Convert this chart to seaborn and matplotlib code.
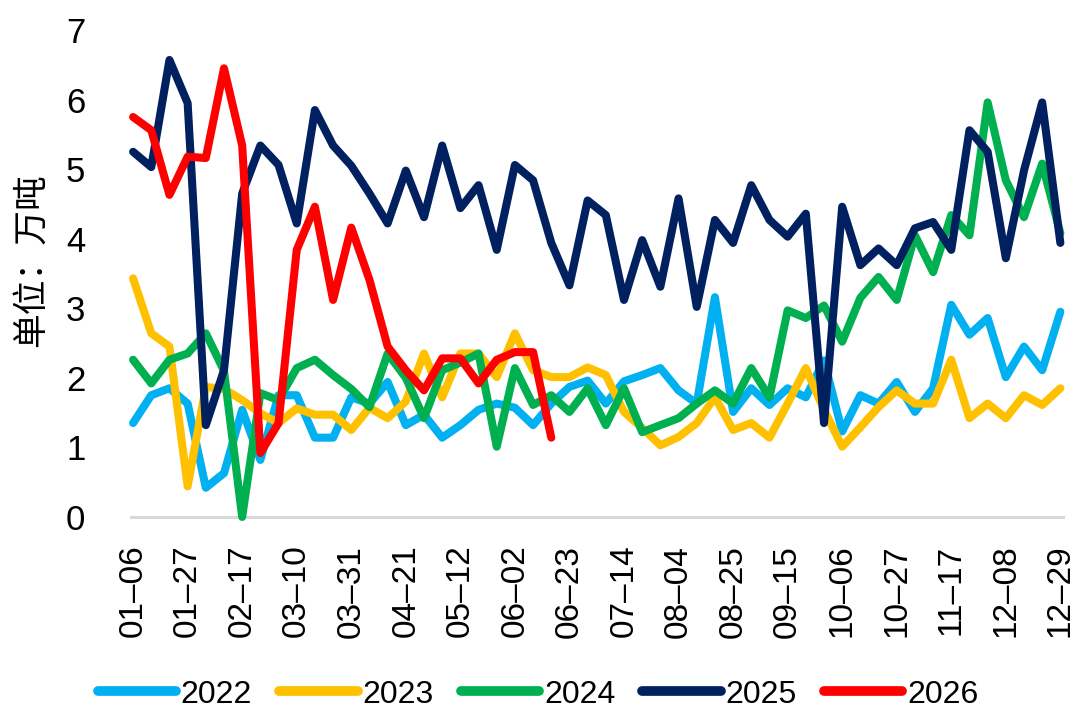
import numpy as np
import pandas as pd
import matplotlib
matplotlib.use("Agg")
import matplotlib.pyplot as plt
import seaborn as sns

# ---------------------------------------------------------------------------
# Data (weekly, unit: 10k tonnes)
# ---------------------------------------------------------------------------

WEEKS = [
    "01–06", "01–13", "01–20", "01–27", "02–03", "02–10", "02–17", "02–24",
    "03–03", "03–10", "03–17", "03–24", "03–31", "04–07", "04–14", "04–21",
    "04–28", "05–05", "05–12", "05–19", "05–26", "06–02", "06–09", "06–16",
    "06–23", "06–30", "07–07", "07–14", "07–21", "07–28", "08–04", "08–11",
    "08–18", "08–25", "09–01", "09–08", "09–15", "09–22", "09–29", "10–06",
    "10–13", "10–20", "10–27", "11–03", "11–10", "11–17", "11–24", "12–01",
    "12–08", "12–15", "12–22", "12–29",
]

Y2022 = [1.35, 1.75, 1.85, 1.63, 0.42, 0.63, 1.54, 0.82, 1.75, 1.75, 1.14, 1.14,
         1.72, 1.63, 1.94, 1.32, 1.47, 1.14, 1.32, 1.54, 1.63, 1.57, 1.32, 1.63,
         1.87, 1.96, 1.63, 1.95, 2.04, 2.14, 1.82, 1.63, 3.16, 1.51, 1.85, 1.61,
         1.85, 1.72, 2.25, 1.23, 1.75, 1.63, 1.94, 1.51, 1.85, 3.05, 2.62, 2.86,
         2.01, 2.45, 2.11, 2.95]
Y2023 = [3.43, 2.64, 2.45, 0.44, 1.87, 1.84, 1.68, 1.49, 1.35, 1.56, 1.47, 1.47,
         1.25, 1.57, 1.42, 1.66, 2.35, 1.72, 2.35, 2.35, 2.01, 2.64, 2.11, 2.01,
         2.01, 2.15, 2.04, 1.51, 1.28, 1.03, 1.15, 1.35, 1.72, 1.25, 1.35, 1.14,
         1.63, 2.14, 1.54, 1.01, 1.29, 1.58, 1.82, 1.63, 1.63, 2.26, 1.42, 1.63,
         1.42, 1.75, 1.61, 1.85]
Y2024 = [2.26, 1.92, 2.26, 2.35, 2.64, 2.10, 0.00, 1.78, 1.68, 2.14, 2.26, 2.04,
         1.84, 1.58, 2.35, 2.00, 1.42, 2.11, 2.22, 2.35, 1.01, 2.14, 1.61, 1.75,
         1.51, 1.85, 1.32, 1.85, 1.22, 1.32, 1.42, 1.63, 1.82, 1.63, 2.14, 1.72,
         2.97, 2.86, 3.04, 2.52, 3.15, 3.45, 3.12, 4.05, 3.52, 4.34, 4.05, 5.96,
         4.84, 4.31, 5.08, 4.08]
Y2025 = [5.25, 5.03, 6.57, 5.95, 1.32, 2.11, 4.65, 5.34, 5.06, 4.22, 5.85, 5.34,
         5.05, 4.65, 4.22, 4.98, 4.31, 5.34, 4.44, 4.77, 3.84, 5.06, 4.84, 3.94,
         3.33, 4.55, 4.34, 3.12, 3.98, 3.31, 4.58, 3.02, 4.27, 3.94, 4.77, 4.27,
         4.03, 4.36, 1.35, 4.46, 3.62, 3.86, 3.62, 4.15, 4.24, 3.84, 5.56, 5.25,
         3.72, 4.98, 5.96, 3.94]
Y2026 = [5.75, 5.56, 4.63, 5.18, 5.16, 6.45, 5.34, 0.92, 1.35, 3.84, 4.46, 3.12,
         4.16, 3.41, 2.45, 2.11, 1.82, 2.28, 2.28, 1.92, 2.26, 2.37, 2.37, 1.14]

SERIES = {"2022": Y2022, "2023": Y2023, "2024": Y2024, "2025": Y2025, "2026": Y2026}
YEAR_COLOURS = {
    "2022": "#00B0F0",
    "2023": "#FFC000",
    "2024": "#00B050",
    "2025": "#002060",
    "2026": "#FF0000",
}
TICK_STEP = 3

# ---------------------------------------------------------------------------
# Long-form table
# ---------------------------------------------------------------------------

rows = []
for year, vals in SERIES.items():
    for i, v in enumerate(vals):
        rows.append({"week": i, "value": v, "year": year})
df = pd.DataFrame(rows)

sns.set_style("white")
plt.rcParams["font.family"] = ["Liberation Sans", "Noto Sans CJK SC", "DejaVu Sans"]
plt.rcParams["text.color"] = "black"
plt.rcParams["xtick.color"] = "black"
plt.rcParams["ytick.color"] = "black"

fig = plt.figure(figsize=(10.76, 7.16), dpi=100)
ax = fig.add_axes([0.122, 0.278, 0.866, 0.680])

sns.lineplot(
    data=df, x="week", y="value", hue="year",
    palette=YEAR_COLOURS, linewidth=5.8, ax=ax,
    solid_capstyle="round", solid_joinstyle="round", clip_on=False,
)

ax.set_xlim(-0.1, 51.15)
ax.set_ylim(0, 7)
ax.set_yticks(range(0, 8))
ticks = list(range(0, len(WEEKS), TICK_STEP))
ax.set_xticks(ticks)
ax.set_xticklabels([WEEKS[i] for i in ticks], rotation=90, fontsize=24)
ax.tick_params(axis="x", length=0, pad=20)
ax.tick_params(axis="y", length=0, pad=33, labelsize=25)

for side in ("top", "right", "left"):
    ax.spines[side].set_visible(False)
ax.spines["bottom"].set_color("#D9D9D9")
ax.spines["bottom"].set_linewidth(2.2)
ax.spines["bottom"].set_zorder(0)

ax.set_xlabel("")
ax.set_ylabel("单位：万吨", fontsize=25, family=["Noto Sans CJK SC", "DejaVu Sans"],
              color="black")
ax.yaxis.set_label_coords(-0.089, 0.528)

handles, labels = ax.get_legend_handles_labels()
ax.get_legend().remove()
leg = fig.legend(
    handles, labels, loc="center", bbox_to_anchor=(0.5, 0.03), ncol=5,
    frameon=False, handlelength=2.45, handletextpad=0.15, columnspacing=0.85,
    borderpad=0.2, prop={"family": ["Liberation Sans"], "size": 23},
)
for h in leg.get_lines():
    h.set_linewidth(7)
    h.set_solid_capstyle("round")

fig.savefig("out.png", dpi=100)
plt.close(fig)
